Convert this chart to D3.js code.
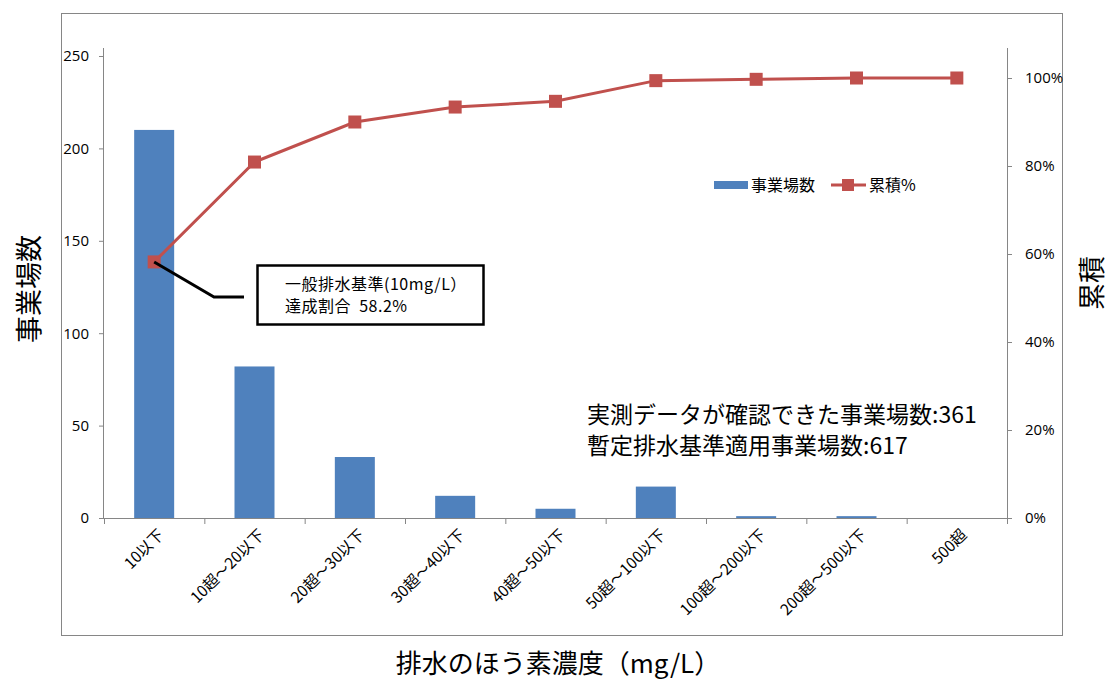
<!DOCTYPE html>
<html><head><meta charset="utf-8">
<script src="https://cdn.jsdelivr.net/npm/d3@7"></script>
<style>
html,body{margin:0;padding:0;background:#fff;}
svg{display:block;font-family:"Noto Sans CJK JP","Noto Sans",sans-serif;}
</style></head>
<body>
<svg id="c" width="1112" height="679"></svg>
<script>
const categories = ["10以下","10超～20以下","20超～30以下","30超～40以下","40超～50以下","50超～100以下","100超～200以下","200超～500以下","500超"];
const counts = [210, 82, 33, 12, 5, 17, 1, 1, 0];
const cumulative = [58.2, 80.9, 90.0, 93.4, 94.7, 99.4, 99.7, 100, 100];
const leftTicks = [0, 50, 100, 150, 200, 250];
const rightTicks = [0, 20, 40, 60, 80, 100];
const seriesNames = ["事業場数", "累積%"];
const axisTitles = {left: "事業場数", right: "累積", bottom: "排水のほう素濃度（mg/L）"};
const noteLines = ["一般排水基準(10mg/L）", "達成割合  58.2%"];
const infoLines = ["実測データが確認できた事業場数:361", "暫定排水基準適用事業場数:617"];

const svg = d3.select("#c");
const L = 104, R = 1007, T = 56, B = 518;
const grey = "#868686";

svg.append("rect").attr("x",61.5).attr("y",13.5).attr("width",1001).attr("height",622)
  .attr("fill","none").attr("stroke",grey).attr("stroke-width",1);

const xb = d3.scaleBand().domain(categories).range([L, R]);
const y = d3.scaleLinear().domain([0, 250]).range([B, T]);
const y2 = d3.scaleLinear().domain([0, 100]).range([B, 78]);

// bars
svg.append("g").selectAll("rect").data(counts).join("rect")
  .attr("x", (d,i) => xb(categories[i]) + xb.bandwidth()/2 - 20)
  .attr("width", 40)
  .attr("y", d => y(d))
  .attr("height", d => B - y(d))
  .attr("fill", "#4F81BD");

// left axis
const gl = svg.append("g").attr("transform", `translate(${L},0)`)
  .call(d3.axisLeft(y).tickValues(leftTicks).tickSize(5).tickPadding(10));
gl.select(".domain").attr("stroke", grey).attr("d", `M-0.5,${T-8}V${B}`);
gl.selectAll(".tick line").attr("stroke", grey);
gl.selectAll("text").attr("font-size", 15).attr("fill", "#000").attr("font-family","'Open Sans','Noto Sans CJK JP'");

// right axis
const gr = svg.append("g").attr("transform", `translate(${R},0)`)
  .call(d3.axisRight(y2).tickValues(rightTicks).tickSize(5).tickPadding(13).tickFormat(d => d + "%"));
gr.select(".domain").attr("stroke", grey).attr("d", `M0.5,${T-8}V${B}`);
gr.selectAll(".tick line").attr("stroke", grey);
gr.selectAll("text").attr("font-size", 15).attr("fill", "#000").attr("font-family","'Open Sans','Noto Sans CJK JP'");

// bottom axis
const gb = svg.append("g").attr("transform", `translate(0,${B})`);
gb.append("line").attr("x1", L).attr("x2", R).attr("y1", 0.5).attr("y2", 0.5).attr("stroke", grey);
gb.selectAll("line.tk").data(categories.concat(["_end"])).join("line").attr("class","tk")
  .attr("x1", (d,i) => L + i*xb.step() + 0.5).attr("x2", (d,i) => L + i*xb.step() + 0.5)
  .attr("y1", 0).attr("y2", 6).attr("stroke", grey);
gb.selectAll("text").data(categories).join("text")
  .attr("transform", d => `translate(${xb(d) + xb.bandwidth()/2 + 7},14) rotate(-45)`)
  .attr("text-anchor", "end").attr("dy", "0.35em")
  .attr("font-size", 15.5).text(d => d);

// line
const line = d3.line().x((d,i) => xb(categories[i]) + xb.bandwidth()/2).y(d => y2(d));
svg.append("path").datum(cumulative).attr("d", line)
  .attr("fill","none").attr("stroke","#C0504D").attr("stroke-width",3);
svg.append("g").selectAll("rect").data(cumulative).join("rect")
  .attr("x", (d,i) => xb(categories[i]) + xb.bandwidth()/2 - 6.5)
  .attr("y", d => y2(d) - 6.5).attr("width", 13).attr("height", 13)
  .attr("fill", "#C0504D");

// legend
const lg = svg.append("g");
lg.append("rect").attr("x", 714).attr("y", 181).attr("width", 34).attr("height", 8).attr("fill", "#4F81BD");
lg.append("text").attr("x", 751).attr("y", 185).attr("dy","0.35em").attr("font-size", 16).text(seriesNames[0]);
lg.append("line").attr("x1", 831).attr("x2", 866).attr("y1", 185).attr("y2", 185).attr("stroke","#C0504D").attr("stroke-width",3);
lg.append("rect").attr("x", 842).attr("y", 179).attr("width", 12).attr("height", 12).attr("fill","#C0504D");
lg.append("text").attr("x", 869).attr("y", 185).attr("dy","0.35em").attr("font-size", 16).text(seriesNames[1]);

// annotation connector & box
svg.append("polyline").attr("points", `${xb(categories[0]) + xb.bandwidth()/2},${y2(cumulative[0])} 214,297 244,297`)
  .attr("fill","none").attr("stroke","#000").attr("stroke-width",3);
svg.append("rect").attr("x", 257.5).attr("y", 265.5).attr("width", 226).attr("height", 59)
  .attr("fill","#fff").attr("stroke","#000").attr("stroke-width",2.5);
svg.append("g").selectAll("text").data(noteLines).join("text")
  .attr("x", 285).attr("y", (d,i) => 284 + i*22).attr("dy","0.35em")
  .attr("font-size", 16).attr("letter-spacing", 0.5).attr("xml:space","preserve").style("white-space","pre").text(d => d);

// info text
svg.append("g").selectAll("text").data(infoLines).join("text")
  .attr("x", 587).attr("y", (d,i) => 415 + i*31).attr("dy","0.35em")
  .attr("font-size", 23).text(d => d);

// axis titles
svg.append("text").attr("transform", "translate(30,289) rotate(-90)").attr("text-anchor","middle")
  .attr("dy","0.35em").attr("font-size", 27).text(axisTitles.left);
svg.append("text").attr("transform", "translate(1093,283) rotate(-90)").attr("text-anchor","middle")
  .attr("dy","0.35em").attr("font-size", 27).text(axisTitles.right);
svg.append("text").attr("x", 558).attr("y", 664).attr("text-anchor","middle")
  .attr("dy","0.35em").attr("font-size", 26).text(axisTitles.bottom);
</script>
</body></html>
